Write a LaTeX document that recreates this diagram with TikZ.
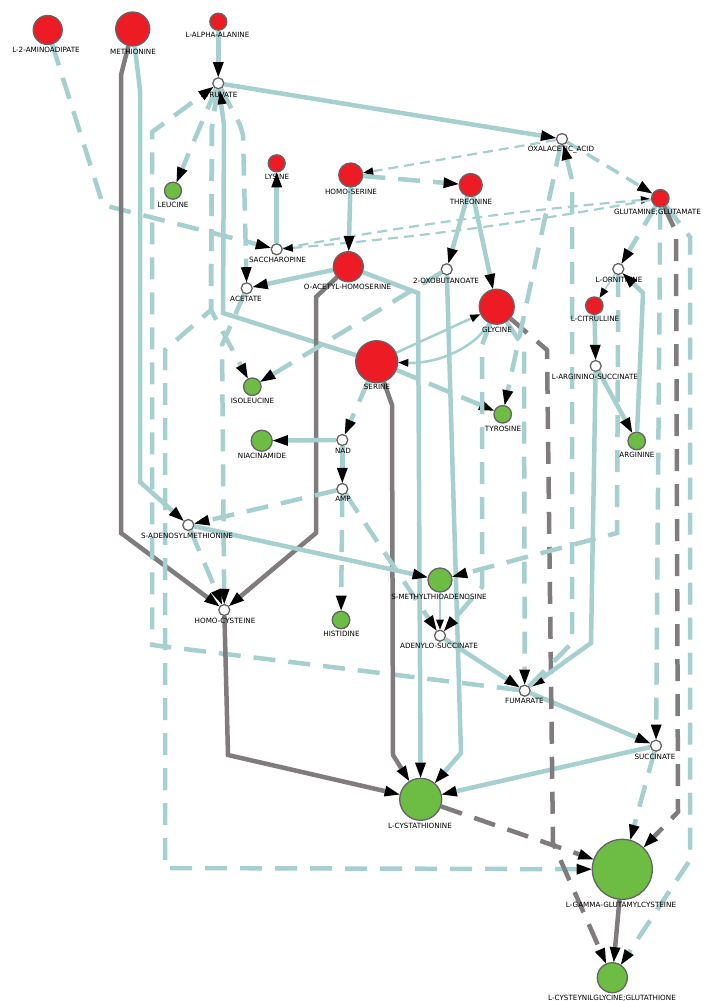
\documentclass[tikz,border=0pt]{standalone}
\usepackage{fontspec}
\setmainfont{DejaVu Sans}
\usetikzlibrary{arrows.meta,backgrounds}
\definecolor{tl}{RGB}{166,207,208}
\definecolor{gr}{RGB}{128,123,125}
\definecolor{rd}{RGB}{237,28,36}
\definecolor{gn}{RGB}{109,189,69}
\definecolor{ol}{RGB}{100,100,100}
\begin{document}
\begin{tikzpicture}[x=1pt,y=-1pt,
 met/.style={circle,draw=ol,line width=1.3pt,inner sep=0pt,minimum size=#1},
 rnode/.style={met=#1,fill=rd},
 gnode/.style={met=#1,fill=gn},
 wnode/.style={met=11pt,fill=white},
 lab/.style={font=\fontsize{7.2}{8}\selectfont,inner sep=0pt},
 tip/.style={-{Triangle[length=15pt,width=11pt,color=black,line width=0pt]}},
 stip/.style={-{Triangle[length=10pt,width=8pt,color=black,line width=0pt]}},
 sol/.style={tip,draw=tl,line width=4.5pt},
 dsh/.style={sol,dash pattern=on 22pt off 13pt},
 gsol/.style={tip,draw=gr,line width=4.5pt},
 gdsh/.style={gsol,dash pattern=on 22pt off 13pt},
 msol/.style={stip,draw=tl,line width=2.5pt},
 mdsh/.style={tip,draw=tl,line width=3.5pt,dash pattern=on 14pt off 9pt},
 tdsh/.style={stip,draw=tl,line width=2.2pt,dash pattern=on 10pt off 6pt},
 thin/.style={stip,draw=tl,line width=1.3pt}
]
\useasboundingbox (0,0) rectangle (702,1001);
\begin{pgfonlayer}{background}
\fill[white] (0,0) rectangle (702,1001);
\end{pgfonlayer}

% metabolites
\node[rnode=29pt] (amino) at (47.7,30) {};
\node[rnode=34pt] (meth) at (132.7,29) {};
\node[rnode=17pt] (ala) at (218.3,21.7) {};
\node[wnode] (pyr) at (218.3,83.3) {};
\node[wnode] (oxa) at (562,139) {};
\node[gnode=17pt] (leu) at (173,190.7) {};
\node[rnode=17pt] (lys) at (276.7,163.3) {};
\node[rnode=24pt] (hser) at (350.7,175) {};
\node[rnode=23pt] (thr) at (470.7,185) {};
\node[rnode=17.5pt] (glu) at (660.3,198.3) {};
\node[wnode] (sac) at (276.7,249.3) {};
\node[rnode=30pt] (oah) at (348.3,266.7) {};
\node[wnode] (ace) at (246.7,288.3) {};
\node[wnode] (oxb) at (446.7,269.3) {};
\node[wnode] (orn) at (618.3,269) {};
\node[rnode=35pt] (gly) at (496.7,306.7) {};
\node[rnode=17.5pt] (cit) at (594.3,305.7) {};
\node[rnode=42pt] (ser) at (376.7,361.7) {};
\node[wnode] (asu) at (595.7,366) {};
\node[gnode=17.5pt] (ile) at (252.3,386.7) {};
\node[gnode=17.5pt] (tyr) at (502.7,414.3) {};
\node[gnode=17.5pt] (arg) at (636.7,441) {};
\node[gnode=21pt] (nia) at (261.7,440.7) {};
\node[wnode] (nad) at (342.3,440) {};
\node[wnode] (amp) at (342.3,489) {};
\node[wnode] (sam) at (188.3,525) {};
\node[gnode=17.5pt] (his) at (341,620) {};
\node[gnode=24pt] (mta) at (440,580) {};
\node[wnode] (hcy) at (224.3,610) {};
\node[wnode] (ads) at (440,635.7) {};
\node[wnode] (fum) at (524.7,690.7) {};
\node[wnode] (suc) at (656,745.7) {};
\node[gnode=42pt] (cys) at (420.7,799.3) {};
\node[gnode=60pt] (ggc) at (622.3,869.3) {};
\node[gnode=30pt] (gsh) at (612.3,977.7) {};

% labels
\node[lab] (tamino) at (46,50) {L-2-AMINOADIPATE};
\node[lab] (tmeth) at (133,52) {METHIONINE};
\node[lab] (tala) at (217.5,35) {L-ALPHA-ALANINE};
\node[lab] (tpyr) at (219,95) {PYRUVATE};
\node[lab] (toxa) at (561,150) {OXALACETIC\_ACID};
\node[lab] (tleu) at (173,205) {LEUCINE};
\node[lab] (tlys) at (277,177) {LYSINE};
\node[lab] (thser) at (351,192) {HOMO-SERINE};
\node[lab] (tthr) at (471,202) {THREONINE};
\node[lab] (tglu) at (657.5,212) {GLUTAMINE;GLUTAMATE};
\node[lab] (tsac) at (277.5,260) {SACCHAROPINE};
\node[lab] (toah) at (347.5,287) {O-ACETYL-HOMOSERINE};
\node[lab] (tace) at (246,299) {ACETATE};
\node[lab] (toxb) at (446,281) {2-OXOBUTANOATE};
\node[lab] (torn) at (619,280) {L-ORNITHINE};
\node[lab] (tgly) at (497,330) {GLYCINE};
\node[lab] (tcit) at (595,319) {L-CITRULLINE};
\node[lab] (tser) at (377,387) {SERINE};
\node[lab] (tasu) at (595,377) {L-ARGININO-SUCCINATE};
\node[lab] (tile) at (252.5,401) {ISOLEUCINE};
\node[lab] (ttyr) at (503,429) {TYROSINE};
\node[lab] (targ) at (637,455) {ARGININE};
\node[lab] (tnia) at (262,456) {NIACINAMIDE};
\node[lab] (tnad) at (343,451) {NAD};
\node[lab] (tamp) at (343,499) {AMP};
\node[lab] (tsam) at (187,536) {S-ADENOSYLMETHIONINE};
\node[lab] (thcy) at (225,621) {HOMO-CYSTEINE};
\node[lab] (this) at (341.5,634) {HISTIDINE};
\node[lab] (tmta) at (439,597) {S-METHYLTHIOADENOSINE};
\node[lab] (tads) at (439,646) {ADENYLO-SUCCINATE};
\node[lab] (tfum) at (524.5,701) {FUMARATE};
\node[lab] (tsuc) at (655,757) {SUCCINATE};
\node[lab] (tcys) at (420,826) {L-CYSTATHIONINE};
\node[lab] (tggc) at (621,905) {L-GAMMA-GLUTAMYLCYSTEINE};
\node[lab] (tgsh) at (612,998) {L-CYSTEYNILGLYCINE;GLUTATHIONE};

% connectors
\begin{pgfonlayer}{background}
\draw[dsh] (amino) -- (103,205) -- (sac);
\draw[gsol] (meth) -- (121,75) -- (121,533) -- (hcy);
\draw[sol] (meth) -- (140,90) -- (140,482) -- (sam);
\draw[sol] (ala) -- (pyr);
\draw[sol] (pyr) -- (oxa);
\draw[dsh] (pyr) -- (leu);
\draw[dsh] (fum) -- (152,645) -- (152,132) -- (pyr);
\draw[dsh] (pyr) -- (240,125) -- (243,135) -- (ace);
\draw[sol] (ser) -- (223,313) -- (224,125) -- (pyr);
\draw[dsh] (pyr) -- (212,127) -- (211,310) -- (ile);
\draw[dsh] (pyr) -- (212,127) -- (211,310) -- (165,350) -- (165,868) -- (ggc);
\draw[dsh] (ace) -- (222,345) -- (hcy);
\draw[sol] (sac) -- (lys);
\draw[tdsh] (sac) to[bend left=2.5] (glu);
\draw[tdsh] (glu) to[bend left=2.5] (sac);
\draw[tdsh] (oxa) -- (hser);
\draw[mdsh] (oxa) -- (glu);
\draw[dsh] (hser) -- (thr);
\draw[sol] (hser) -- (oah);
\draw[sol] (thr) -- (oxb);
\draw[sol] (thr) -- (gly);
\draw[sol] (oah) -- (ace);
\draw[gsol] (oah) -- (316,297) -- (316,533) -- (hcy);
\draw[sol] (oah) -- (418,293) -- (cys);
\draw[sol] (oxb) -- (461,753) -- (cys);
\draw[dsh] (oxb) -- (ile);
\draw[msol] (ser) -- (gly);
\draw[msol] (gly) .. controls (478,345) and (440,364) .. (ser);
\draw[dsh] (ser) -- (tyr);
\draw[dsh] (ser) -- (nad);
\draw[gsol] (ser) -- (392,405) -- (393,755) -- (cys);
\draw[sol] (nad) -- (nia);
\draw[sol] (nad) -- (amp);
\draw[dsh] (amp) -- (sam);
\draw[dsh] (amp) -- (his);
\draw[dsh] (amp) -- (ads);
\draw[sol] (sam) -- (mta);
\draw[dsh] (sam) -- (hcy);
\draw[thin] (mta) -- (ads);
\draw[sol] (ads) -- (fum);
\draw[sol] (fum) -- (suc);
\draw[sol] (suc) -- (cys);
\draw[gsol] (hcy) -- (228,755) -- (cys);
\draw[gdsh] (cys) -- (ggc);
\draw[gdsh] (gly) -- (547,350) -- (553,843) -- (gsh);
\draw[gsol] (ggc) -- (gsh);
\draw[dsh] (glu) -- (690,237) -- (690,860) -- (gsh);
\draw[gdsh] (glu) -- (676,232) -- (678,812) -- (ggc);
\draw[dsh] (glu) -- (suc);
\draw[dsh] (suc) -- (ggc);
\draw[dsh] (glu) -- (orn);
\draw[thin] (orn) -- (cit);
\draw[sol] (cit) -- (asu);
\draw[sol] (asu) -- (arg);
\draw[sol] (arg) -- (643,293) -- (orn);
\draw[sol] (asu) -- (591,643) -- (fum);
\draw[dsh] (fum) -- (572,643) -- (572,180) -- (oxa);
\draw[dsh] (oxa) -- (tyr);
\draw[dsh] (gly) -- (524,348) -- (fum);
\draw[dsh] (gly) -- (482,345) -- (482,587) -- (ads);
\draw[dsh] (orn) -- (617,533) -- (mta);
\end{pgfonlayer}
\end{tikzpicture}
\end{document}
